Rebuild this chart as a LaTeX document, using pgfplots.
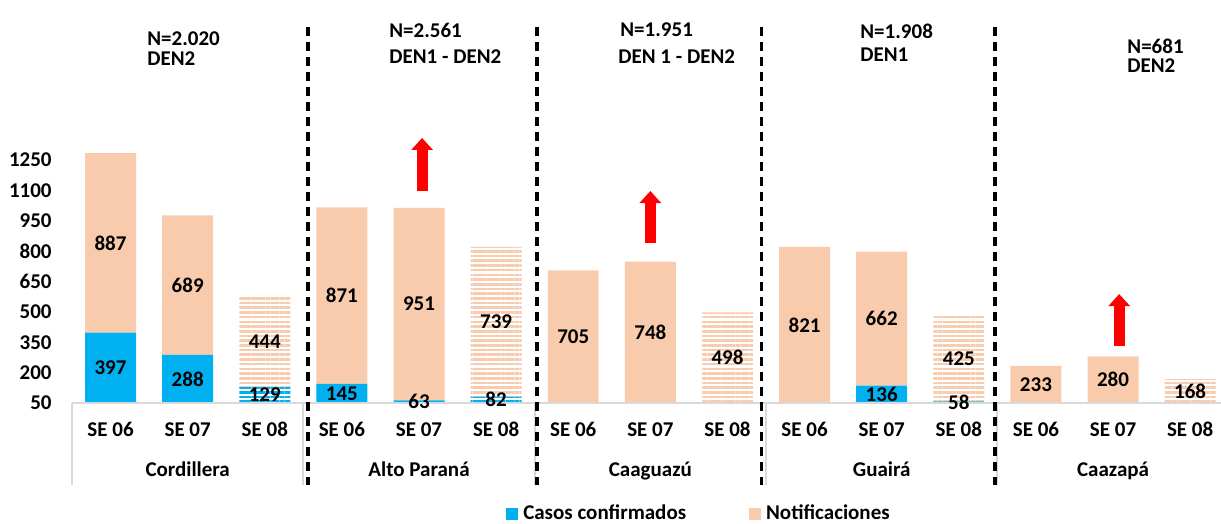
\documentclass[border=0pt]{standalone}
\usepackage{fontspec}
\setmainfont{Carlito}
\usepackage{pgfplots}
\usepackage{pgfplotstable}
\pgfplotsset{compat=1.18}
\usetikzlibrary{patterns.meta,arrows.meta}
\definecolor{cblue}{HTML}{00B0F0}
\definecolor{cpeach}{HTML}{F8CBAD}
\definecolor{cgrey}{HTML}{D9D9D9}

\pgfplotstableread{
x conf confH notif notifH
0  397 0   887 0
1  288 0   689 0
2  0   129 0   444
3  145 0   871 0
4  63  0   951 0
5  0   82  0   739
6  0   0   705 0
7  0   0   748 0
8  0   0   0   498
9  0   0   821 0
10 136 0   662 0
11 0   58  0   425
12 0   0   233 0
13 0   0   280 0
14 0   0   0   168
}\bars

\pgfplotstableread{
x y lab
0 223.5 397
0 840.5 887
1 169 288
1 632.5 689
2 89.5 129
2 351 444
3 97.5 145
3 580.5 871
4 56.5 63
4 538.5 951
5 66 82
5 451.5 739
6 377.5 705
7 399 748
8 274 498
9 435.5 821
10 93 136
10 467 662
11 54 58
11 270.5 425
12 141.5 233
13 165 280
14 109 168
}\labs

\pgfplotsset{
  base/.style={
    width=574.5pt, height=189pt, scale only axis,
    xmin=-0.5, xmax=14.4, ymin=50, ymax=1917,
    at={(36pt,60.5pt)}, anchor=south west,
  }
}

\begin{document}
\fontsize{10.5}{12.6}\selectfont\bfseries
\begin{tikzpicture}
\begin{axis}[base,
  ybar stacked, bar width=0.661,
  axis line style={draw=none}, tick style={draw=none},
  xtick={0,...,14},
  xticklabels={SE 06,SE 07,SE 08,SE 06,SE 07,SE 08,SE 06,SE 07,SE 08,SE 06,SE 07,SE 08,SE 06,SE 07,SE 08},
  xticklabel style={anchor=base, inner sep=0pt, yshift=-17pt},
  ytick={50,200,350,500,650,800,950,1100,1250},
  yticklabels={50,200,350,500,650,800,950,1100,1250},
  yticklabel style={anchor=east, inner sep=0pt, xshift=-10pt},
  legend columns=2,
  legend style={at={(axis description cs:0.5448,-0.2937)}, anchor=center,
    draw=none, fill=none, inner sep=0pt,
    nodes={inner sep=0pt},
    /tikz/every odd column/.append style={column sep=2.5pt},
    /tikz/every even column/.append style={column sep=31.5pt}},
  legend image code/.code={\fill[#1] (0pt,-3pt) rectangle (6pt,3pt);},
]
\addplot[draw=none, fill=cblue] table[x=x, y=conf] \bars;
\addlegendentry{Casos confirmados}
\addplot[draw=none, pattern={Lines[angle=0,distance=2.35pt,line width=1.3pt]}, pattern color=cblue, forget plot] table[x=x, y=confH] \bars;
\addplot[draw=none, fill=cpeach] table[x=x, y=notif] \bars;
\addlegendentry{Notificaciones}
\addplot[draw=none, pattern={Lines[angle=0,distance=2.35pt,line width=1.3pt]}, pattern color=cpeach, forget plot] table[x=x, y=notifH] \bars;
\end{axis}
\begin{axis}[base, hide axis, clip=false]
% grey category frame
\draw[cgrey, line width=1pt] (axis cs:-0.5,50) -- (axis cs:14.5,50);
\pgfplotsinvokeforeach{-0.5,2.5,5.5,8.5,11.5}{
  \draw[cgrey, line width=1pt] (axis cs:#1,50) -- (axis cs:#1,-355);
}
% dashed separators
\pgfplotsinvokeforeach{2.56,5.53,8.44,11.47}{
  \draw[black, line width=1.6pt, dash pattern=on 4.5pt off 3pt] (axis cs:#1,1907) -- (axis cs:#1,-355);
}
% red arrows
\draw[red, line width=5.5pt, -{Triangle[width=10.5pt,length=6pt]}] (axis cs:4.04,1097) -- (axis cs:4.04,1359);
\draw[red, line width=5.5pt, -{Triangle[width=10.5pt,length=6pt]}] (axis cs:7.0,840) -- (axis cs:7.0,1097);
\draw[red, line width=5.5pt, -{Triangle[width=10.5pt,length=6pt]}] (axis cs:13.08,331) -- (axis cs:13.08,588);
% value labels
\addplot[draw=none, mark=none, nodes near coords, point meta=explicit symbolic,
  nodes near coords style={anchor=center, inner sep=0pt, text=black}]
  table[x=x, y=y, meta=lab] \labs;
% group names
\node[anchor=base, inner sep=0pt] at (axis cs:1,-315.4) {Cordillera};
\node[anchor=base, inner sep=0pt] at (axis cs:4,-315.4) {Alto Paraná};
\node[anchor=base, inner sep=0pt] at (axis cs:7,-315.4) {Caaguazú};
\node[anchor=base, inner sep=0pt] at (axis cs:10,-315.4) {Guairá};
\node[anchor=base, inner sep=0pt] at (axis cs:13,-315.4) {Caazapá};
\end{axis}
\begin{scope}[shift={(0pt,262pt)}, x=0.5pt, y=-0.5pt]
\tikzset{every node/.style={anchor=west, inner sep=0pt}}
\node at (147,38.5) {N=2.020};
\node at (147,59) {DEN2};
\node at (389,30) {N=2.561};
\node at (389,57) {DEN1 - DEN2};
\node at (620,30) {N=1.951};
\node at (618,57) {DEN 1 - DEN2};
\node at (860,31.5) {N=1.908};
\node at (860,55) {DEN1};
\node at (1127,46.5) {N=681};
\node at (1127,66) {DEN2};
\end{scope}
\pgfresetboundingbox
\path[use as bounding box] (0,0) rectangle (610.5pt,262pt);
\end{tikzpicture}
\end{document}
